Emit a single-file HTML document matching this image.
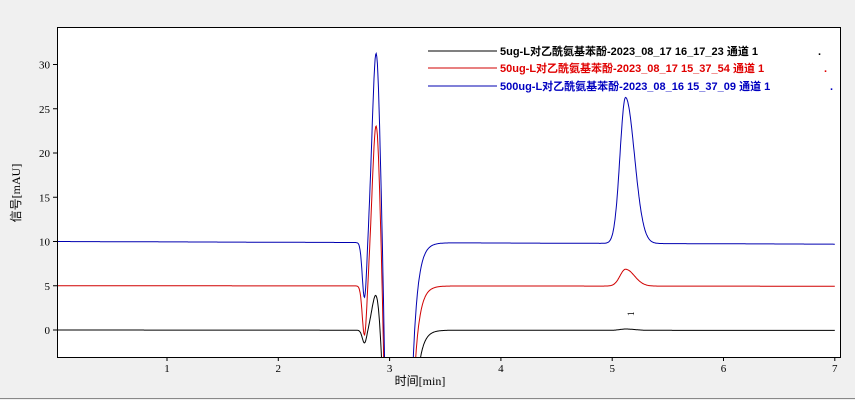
<!DOCTYPE html>
<html><head><meta charset="utf-8"><style>
body{margin:0;background:#f0f0f0;}
svg{display:block;font-family:"Liberation Serif","Noto Serif CJK SC",serif;}
.lg{font-family:"Liberation Sans","Noto Sans CJK SC",sans-serif;font-size:11px;font-weight:bold;}
</style></head><body>
<svg id="s" width="855" height="400" xmlns="http://www.w3.org/2000/svg">
<rect x="0" y="0" width="855" height="400" fill="#f0f0f0"/>
<line x1="0" y1="398.5" x2="855" y2="398.5" stroke="#888"/>
<rect x="57.5" y="27.5" width="783" height="330" fill="#fff" stroke="#000"/>
<defs><clipPath id="c"><rect x="58" y="28" width="782" height="329"/></clipPath></defs>
<g id="curves" clip-path="url(#c)"></g>
<g id="ticks" font-size="11" fill="#000"></g>
<text x="420" y="385" font-size="12" text-anchor="middle" font-family="Liberation Serif, Noto Sans CJK SC, serif">时间[min]</text>
<text transform="translate(20,193) rotate(-90)" font-size="12" text-anchor="middle" font-family="Liberation Serif, Noto Sans CJK SC, serif">信号[mAU]</text>
<g class="lg">
<line x1="428" y1="51" x2="497" y2="51" stroke="#000"/>
<text x="500" y="55" fill="#000">5ug-L对乙酰氨基苯酚-2023_08_17 16_17_23 通道 1</text>
<text x="818" y="55" fill="#000">.</text>
<line x1="428" y1="68" x2="497" y2="68" stroke="#d00000"/>
<text x="500" y="72" fill="#e00000">50ug-L对乙酰氨基苯酚-2023_08_17 15_37_54 通道 1</text>
<text x="824" y="72" fill="#e00000">.</text>
<line x1="428" y1="86" x2="497" y2="86" stroke="#0000b0"/>
<text x="500" y="90" fill="#0000c0">500ug-L对乙酰氨基苯酚-2023_08_16 15_37_09 通道 1</text>
<text x="830" y="90" fill="#0000c0">.</text>
</g>
<text x="628" y="316" font-size="9" transform="rotate(-90 631 313)">1</text>
</svg>
<script>
var X=function(t){return 55.7+111.3*t},Y=function(v){return 330-8.85*v};
function g(t,c,s){return Math.exp(-0.5*Math.pow((t-c)/s,2));}
function trough(t){return t<3.09?-200*g(t,3.09,0.06):-200*Math.exp(-(t-3.09)/0.045);}
function pk(t,A){var s=t<5.12?0.05:0.08;return A*g(t,5.12,s);}
function mk(base,drift,A,D,P,col){
  var d="";
  for(var i=0;i<=1400;i++){var t=i*0.005;
    var v=base-drift*t/7+A*g(t,2.88,0.036)-D*g(t,2.775,0.02)+trough(t)+pk(t,P);
    if(v<-6)v=-6;
    d+=(i?"L":"M")+X(t).toFixed(1)+" "+Y(v).toFixed(1);}
  return '<path d="'+d+'" fill="none" stroke="'+col+'" stroke-width="1"/>';
}
var h=mk(0,0.05,4.3,1.5,0.15,"#000")+mk(5,0.05,18.5,5.8,1.9,"#d00000")+mk(10,0.3,21.8,6.5,16.5,"#0000b0");
document.getElementById("curves").innerHTML=h;
var tk="";
for(var i=1;i<=7;i++){var x=X(i);tk+='<line x1="'+x+'" y1="357" x2="'+x+'" y2="361" stroke="#000"/><text x="'+x+'" y="372" text-anchor="middle">'+i+'</text>';}
for(var v=0;v<=30;v+=5){var y=Y(v);tk+='<line x1="53" y1="'+y+'" x2="57" y2="'+y+'" stroke="#000"/><text x="50" y="'+(y+4)+'" text-anchor="end">'+v+'</text>';}
document.getElementById("ticks").innerHTML=tk;
</script>
</body></html>
